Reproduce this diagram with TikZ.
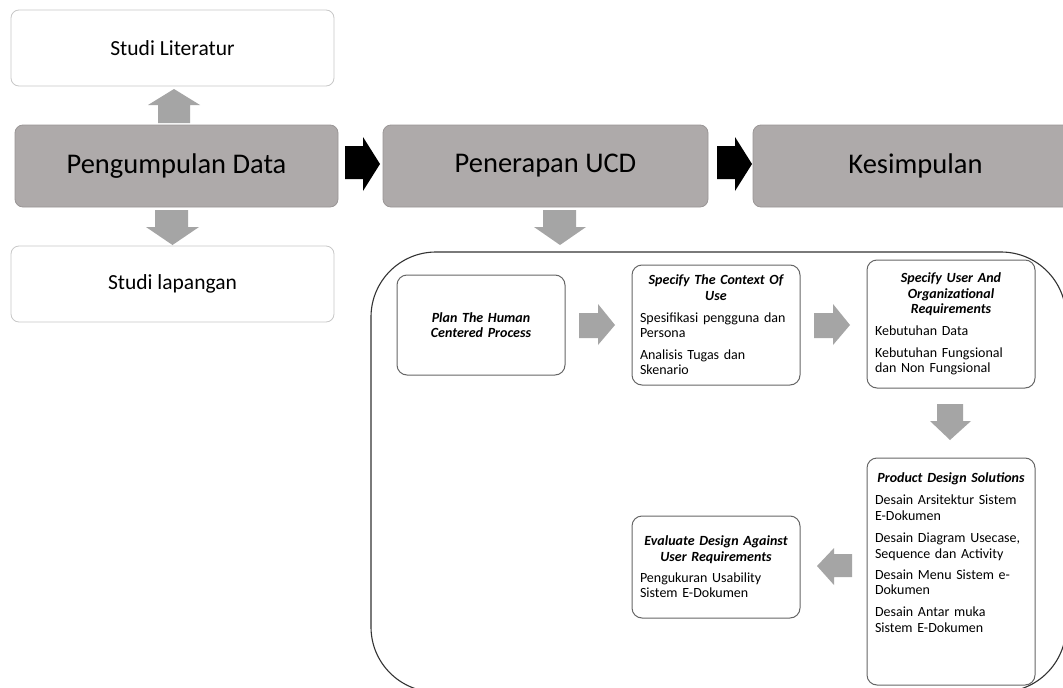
\documentclass[tikz,border=0pt]{standalone}
\usepackage{fontspec}
\setmainfont{Carlito}
\definecolor{boxgrey}{HTML}{AEAAAA}
\definecolor{boxedge}{HTML}{9A9696}
\definecolor{lightedge}{HTML}{C8C8C8}
\definecolor{innerline}{HTML}{666666}
\definecolor{arrgrey}{HTML}{A5A5A5}
\definecolor{contline}{HTML}{333333}
\definecolor{textc}{HTML}{000000}
\begin{document}
\begin{tikzpicture}[x=1pt,y=-1pt,
  greybox/.style={draw=boxedge, fill=boxgrey, rounded corners=8pt, line width=0.8pt, inner sep=0pt,
    minimum width=325pt, minimum height=82pt, font=\fontsize{28.5}{34}\selectfont, text=textc},
  whitebox/.style={draw=lightedge, fill=white, rounded corners=8pt, line width=0.8pt, inner sep=0pt,
    minimum width=323pt, minimum height=76pt, font=\fontsize{21.5}{26}\selectfont, text=textc},
  ucdbox/.style={draw=innerline, fill=white, rounded corners=10pt, line width=1pt, inner sep=0pt,
    minimum width=168pt, text width=152pt, align=left, font=\fontsize{14}{15.4}\selectfont, text=textc},
  bodytext/.style={inner sep=0pt, text width=152pt, align=left, font=\fontsize{14}{15.4}\selectfont, text=textc},
  container/.style={draw=contline, line width=1.1pt, rounded corners=65pt, inner sep=0pt},
  blockarr/.style={fill=arrgrey},
  blackarr/.style={fill=black},
]
\clip (0,0) rectangle (1063,688);
\fill[white] (0,0) rectangle (1063,688);

% top row
\node[whitebox] (lit) at (172.5,48) {Studi Literatur};
\node[greybox, minimum width=323pt] (pd) at (176.5,166) {Pengumpulan Data};
\node[whitebox] (lap) at (172.5,284) {Studi lapangan};
\node[greybox] (ucd) at (545.5,166) {Penerapan UCD};
\node[greybox] (kes) at (915.5,166) {Kesimpulan};

% block arrows of the top row
\fill[blockarr] (158,123) -- (158,105) -- (148,105) -- (174,89) -- (200,105) -- (190,105) -- (190,123) -- cycle;
\fill[blockarr] (155,210) -- (188,210) -- (188,227) -- (199,227) -- (172.5,245) -- (146,227) -- (155,227) -- cycle;
\fill[blackarr] (345,146) -- (363,146) -- (363,137) -- (380,164) -- (363,191) -- (363,179) -- (345,179) -- cycle;
\fill[blackarr] (717,146) -- (735,146) -- (735,137) -- (752,164) -- (735,191) -- (735,179) -- (717,179) -- cycle;
\fill[blockarr] (543,210) -- (576,210) -- (576,227) -- (586,227) -- (560,245) -- (534,227) -- (543,227) -- cycle;

% UCD container
\node[container, minimum width=695pt, minimum height=440pt] (cont) at (718.5,472) {};

% UCD steps
\node[ucdbox, minimum height=100pt, align=center] (plan) at (481,325)
  {\bfseries\itshape Plan The Human\\Centered Process};
\node[ucdbox, minimum height=120pt] (ctx) at (716,325)
  {{\centering\bfseries\itshape Specify The Context Of\\Use\par}
   \vspace{6.5pt}Spesifikasi pengguna dan\\Persona\par
   \vspace{6.5pt}Analisis Tugas dan\\Skenario};
\node[ucdbox, minimum height=128pt] (req) at (951,324)
  {{\centering\bfseries\itshape Specify User And\\Organizational\\Requirements\par}
   \vspace{7pt}Kebutuhan Data\par
   \vspace{6pt}Kebutuhan Fungsional\\dan Non Fungsional};
\node[ucdbox, minimum height=227pt] (prod) at (951,571.5) {};
\node[bodytext, anchor=north] (prodtext) at (951,472.5)
  {{\centering\bfseries\itshape Product Design Solutions\par}
   \vspace{7pt}Desain Arsitektur Sistem\\E-Dokumen\par
   \vspace{7pt}Desain Diagram Usecase,\\Sequence dan Activity\par
   \vspace{6pt}Desain Menu Sistem e-\\Dokumen\par
   \vspace{6.5pt}Desain Antar muka\\Sistem E-Dokumen};
\node[ucdbox, minimum height=102pt] (eval) at (716,567)
  {{\centering\bfseries\itshape Evaluate Design Against\\User Requirements\par}
   \vspace{6pt}Pengukuran Usability\\Sistem E-Dokumen};

% block arrows between steps
\fill[blockarr] (579,313) -- (598,313) -- (598,304) -- (615,325) -- (598,345) -- (598,338) -- (579,338) -- cycle;
\fill[blockarr] (814,313) -- (833,313) -- (833,304) -- (850,325) -- (833,345) -- (833,338) -- (814,338) -- cycle;
\fill[blockarr] (937,404) -- (963,404) -- (963,421) -- (971,421) -- (950,440) -- (930,421) -- (937,421) -- cycle;
\fill[blockarr] (852,554) -- (834,554) -- (834,548) -- (817,566) -- (834,585) -- (834,577) -- (852,577) -- cycle;
\end{tikzpicture}
\end{document}
